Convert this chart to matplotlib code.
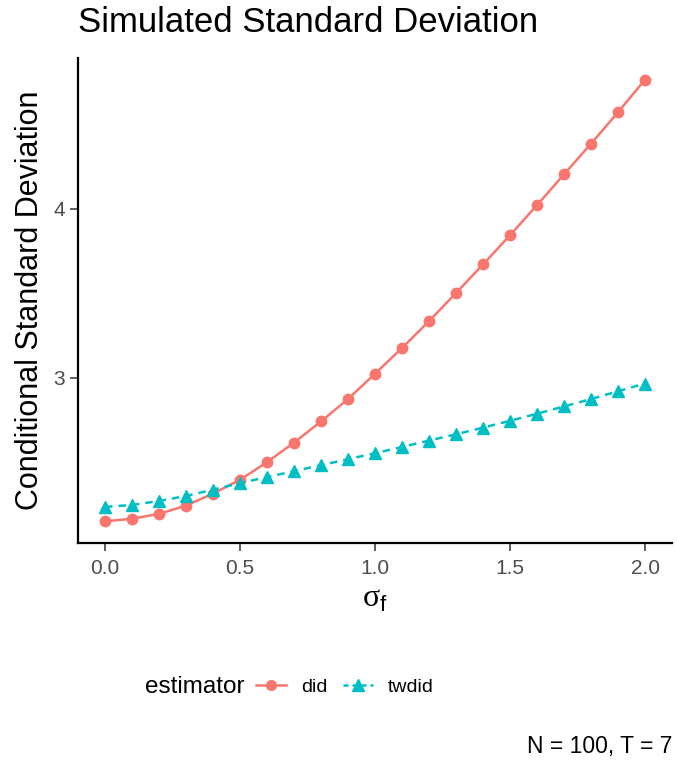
import matplotlib
matplotlib.use("Agg")
import matplotlib.pyplot as plt
from matplotlib.lines import Line2D

sigma_f = [0.0, 0.1, 0.2, 0.3, 0.4, 0.5, 0.6, 0.7, 0.8, 0.9, 1.0,
           1.1, 1.2, 1.3, 1.4, 1.5, 1.6, 1.7, 1.8, 1.9, 2.0]
did = [2.150, 2.165, 2.194, 2.243, 2.314, 2.396, 2.50, 2.616, 2.741, 2.874, 3.024,
       3.176, 3.335, 3.502, 3.671, 3.844, 4.022, 4.204, 4.386, 4.572, 4.765]
twdid = [2.235, 2.247, 2.270, 2.300, 2.337, 2.376, 2.412, 2.447, 2.482, 2.518, 2.553,
         2.590, 2.628, 2.665, 2.705, 2.745, 2.787, 2.830, 2.874, 2.920, 2.966]
series_names = ["did", "twdid"]
x_ticks = [0.0, 0.5, 1.0, 1.5, 2.0]
x_tick_labels = ["0.0", "0.5", "1.0", "1.5", "2.0"]
y_ticks = [3, 4]
y_tick_labels = ["3", "4"]

plt.rcParams['font.family'] = ['Liberation Sans', 'DejaVu Sans']
plt.rcParams['mathtext.fontset'] = 'custom'
plt.rcParams['mathtext.rm'] = 'Liberation Serif'
plt.rcParams['mathtext.sf'] = 'Liberation Sans'

W, H = 677, 760
fig = plt.figure(figsize=(W / 100, H / 100), dpi=100)
ax = fig.add_axes([78 / W, 1 - 543 / H, (672 - 78) / W, (543 - 58) / H])

c1, c2 = "#F8766D", "#00BFC4"
ax.plot(sigma_f, did, color=c1, lw=1.8, marker='o', ms=7.5, label=series_names[0])
ax.plot(sigma_f, twdid, color=c2, lw=1.8, ls=(0, (3, 2.4)), marker='^', ms=8.5,
        label=series_names[1])

ax.set_xlim(-0.1, 2.1)
ax.set_ylim(2.0215, 4.8935)
ax.set_xticks(x_ticks)
ax.set_xticklabels(x_tick_labels)
ax.set_yticks(y_ticks)
ax.set_yticklabels(y_tick_labels)
ax.tick_params(axis='both', colors='#333333', labelsize=15, length=5.5, width=1.1,
               labelcolor='#4D4D4D')
ax.tick_params(axis='x', pad=6)
ax.tick_params(axis='y', pad=4)
for s in ['top', 'right']:
    ax.spines[s].set_visible(False)
for s in ['left', 'bottom']:
    ax.spines[s].set_linewidth(1.6)
    ax.spines[s].set_color('black')

ax.set_xlabel(r"$\mathrm{\sigma}_\mathsf{f}$", fontsize=23, labelpad=4)
ax.set_ylabel("Conditional Standard Deviation", fontsize=22, labelpad=6)

fig.text(78 / W, 1 - 22 / H, "Simulated Standard Deviation", fontsize=25,
         ha='left', va='center')

fig.text(244 / W, 1 - 687 / H, "estimator", fontsize=17.5, ha='right', va='center')
handles = [Line2D([], [], color=c1, lw=1.8, marker='o', ms=7),
           Line2D([], [], color=c2, lw=1.8, ls=(0, (2, 1.6)), marker='^', ms=8)]
fig.legend(handles, series_names, loc='center left',
           bbox_to_anchor=(256 / W, 1 - 687 / H), ncol=2, frameon=False,
           fontsize=14, handlelength=1.55, handletextpad=0.75, columnspacing=0.8,
           borderpad=0, borderaxespad=0)

fig.text(672 / W, 1 - 746 / H, "N = 100, T = 7", fontsize=16.5, ha='right', va='center')

fig.savefig("out.png", dpi=100)
